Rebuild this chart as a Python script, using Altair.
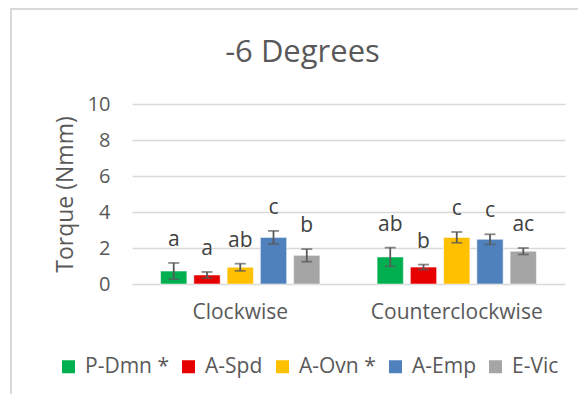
import altair as alt
import pandas as pd

directions = ["Clockwise", "Counterclockwise"]
groups = ["P-Dmn *", "A-Spd", "A-Ovn *", "A-Emp", "E-Vic"]
colors = ["#00B050", "#E60000", "#FFC000", "#4F81BD", "#A5A5A5"]
cw_values = [0.72, 0.50, 0.93, 2.59, 1.59]
cw_errors = [0.45, 0.17, 0.20, 0.36, 0.35]
cw_letters = ["a", "a", "ab", "c", "b"]
ccw_values = [1.50, 0.94, 2.59, 2.48, 1.82]
ccw_errors = [0.52, 0.14, 0.30, 0.28, 0.18]
ccw_letters = ["ab", "b", "c", "c", "ac"]
y_ticks = [0, 2, 4, 6, 8, 10]

rows = []
for d, vals, errs, lets in [(directions[0], cw_values, cw_errors, cw_letters),
                            (directions[1], ccw_values, ccw_errors, ccw_letters)]:
    for g, v, e, l in zip(groups, vals, errs, lets):
        rows.append({"direction": d, "group": g, "value": v,
                     "lo": v - e, "hi": v + e, "letter": l})
df = pd.DataFrame(rows)

FONT = "Open Sans"
GREY = "#595959"

x = alt.X("direction:N", sort=directions, title=None,
          scale=alt.Scale(paddingInner=0, paddingOuter=0),
          axis=alt.Axis(labelAngle=0, labelFontSize=21, labelColor=GREY,
                        labelFont=FONT, labelPadding=17, ticks=False,
                        domain=False))
xo = alt.XOffset("group:N", sort=groups,
                 scale=alt.Scale(paddingInner=0.21, paddingOuter=0.86))
yaxis = alt.Axis(values=y_ticks, labelFontSize=20,
                 labelColor=GREY, labelFont=FONT, labelPadding=22,
                 labelOverlap=False, labelBound=False,
                 ticks=False, domain=False, gridColor="#D9D9D9",
                 gridWidth=1.5, titleFontSize=23, titleFont=FONT,
                 titleColor=GREY, titleFontWeight="normal",
                 titlePadding=10)
yscale = alt.Scale(domain=[0, 10])


def Y(field):
    return alt.Y(field, title="Torque (Nmm)", scale=yscale, axis=yaxis)


base = alt.Chart(df)

bars = base.mark_bar(stroke="white", strokeWidth=0.5).encode(
    x=x, xOffset=xo, y=Y("value:Q"),
    color=alt.Color("group:N", sort=groups,
                    scale=alt.Scale(domain=groups, range=colors),
                    legend=alt.Legend(title=None, orient="none",
                                      direction="horizontal",
                                      legendX=-74, legendY=252,
                                      symbolType="square", symbolSize=169,
                                      symbolStrokeWidth=0,
                                      labelFontSize=21, labelFont=FONT,
                                      labelColor=GREY, labelOffset=6,
                                      columnPadding=9)),
)

err = base.mark_rule(color=GREY, strokeWidth=1.8).encode(
    x=x, xOffset=xo, y=Y("lo:Q"), y2="hi:Q")
cap_hi = base.mark_tick(color=GREY, thickness=1.8, size=11).encode(
    x=x, xOffset=xo, y=Y("hi:Q"))
cap_lo = base.mark_tick(color=GREY, thickness=1.8, size=11).encode(
    x=x, xOffset=xo, y=Y("lo:Q"))

labels = base.mark_text(fontSize=21, font=FONT, color="#404040",
                        baseline="alphabetic", dy=-17).encode(
    x=x, xOffset=xo, y=Y("hi:Q"), text="letter:N")

frame_data = alt.Chart(pd.DataFrame({"k": [0]}))
left_border = frame_data.mark_rule(color="#D9D9D9", strokeWidth=2).encode(
    x=alt.value(-121), y=alt.value(-96), y2=alt.value(300))
top_border = frame_data.mark_rule(color="#D9D9D9", strokeWidth=2).encode(
    x=alt.value(-121), x2=alt.value(460), y=alt.value(-95))

chart = alt.layer(left_border, top_border, bars, err, cap_hi, cap_lo, labels).properties(
    width=433, height=180,
    autosize=alt.AutoSizeParams(type="none"),
    padding={"left": 124, "top": 96, "right": 13, "bottom": 110},
    title=alt.TitleParams("-6 Degrees", fontSize=31, font=FONT, color=GREY,
                          fontWeight="normal", anchor="middle", dx=-46,
                          offset=-86, baseline="alphabetic"),
).configure(background="white", view=alt.ViewConfig(stroke=None))

chart.save("out.html", embed_options={"renderer": "svg", "actions": False})
